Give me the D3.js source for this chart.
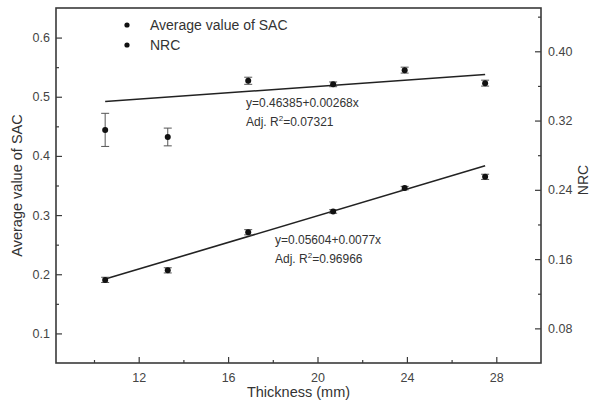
<!DOCTYPE html>
<html><head><meta charset="utf-8">
<script src="https://cdn.jsdelivr.net/npm/d3@7"></script>
<style>body{margin:0;background:#fff}svg{display:block;font-family:"Liberation Sans",Arial,sans-serif}</style>
</head><body><svg id="c" width="594" height="406"></svg>
<script>
const thickness = [10.5, 13.3, 16.9, 20.7, 23.9, 27.5];
const sac = [0.444, 0.432, 0.527, 0.521, 0.545, 0.523];
const sacErr = [0.028, 0.015, 0.006, 0.004, 0.005, 0.005];
const nrc = [0.136, 0.147, 0.191, 0.215, 0.242, 0.255];
const nrcErr = [0.003, 0.003, 0.003, 0.002, 0.002, 0.003];
const sacFit = [0.46385, 0.00268];
const nrcFit = [0.05604, 0.0077];
const xTicks = [12, 16, 20, 24, 28];
const xMinor = [10, 14, 18, 22, 26];
const yLTicks = [0.1, 0.2, 0.3, 0.4, 0.5, 0.6];
const yLMinor = [0.15, 0.25, 0.35, 0.45, 0.55];
const yRTicks = [0.08, 0.16, 0.24, 0.32, 0.40];
const yRMinor = [0.12, 0.20, 0.28, 0.36, 0.44];

const L = 56, R = 541, T = 8, B = 363;
const svg = d3.select("#c");
const x = d3.scaleLinear([8.3, 30], [L, R]);
const yL = d3.scaleLinear([0.05, 0.65], [B, T]);
const yR = d3.scaleLinear([0.04, 0.45], [B, T]);
const ink = "#333", lineC = "#3a3a3a";

function style(g){
  g.select(".domain").remove();
  g.selectAll("line").attr("stroke", lineC).attr("stroke-width", 1.2);
  g.selectAll("text").attr("fill", "#444").style("font-size", "12.5px").style("font-family", '"Liberation Sans",Arial,sans-serif');
}
// major/minor axes
svg.append("g").attr("transform", `translate(0,${B})`)
  .call(d3.axisBottom(x).tickValues(xTicks).tickSize(-6).tickPadding(10).tickFormat(d3.format("d"))).call(style);
svg.append("g").attr("transform", `translate(0,${B})`)
  .call(d3.axisBottom(x).tickValues(xMinor).tickSize(-3).tickFormat("")).call(style);
svg.append("g").attr("transform", `translate(${L},0)`)
  .call(d3.axisLeft(yL).tickValues(yLTicks).tickSize(-6).tickPadding(6).tickFormat(d3.format(".1f"))).call(style);
svg.append("g").attr("transform", `translate(${L},0)`)
  .call(d3.axisLeft(yL).tickValues(yLMinor).tickSize(-3).tickFormat("")).call(style);
svg.append("g").attr("transform", `translate(${R},0)`)
  .call(d3.axisRight(yR).tickValues(yRTicks).tickSize(-6).tickPadding(7).tickFormat(d3.format(".2f"))).call(style);
svg.append("g").attr("transform", `translate(${R},0)`)
  .call(d3.axisRight(yR).tickValues(yRMinor).tickSize(-3).tickFormat("")).call(style);

// frame
svg.append("rect").attr("x", L).attr("y", T).attr("width", R - L).attr("height", B - T)
  .attr("fill", "none").attr("stroke", lineC).attr("stroke-width", 1.6);

// fit lines
const xr = [d3.min(thickness), d3.max(thickness)];
const line = (ys) => d3.line().x(d => x(d)).y(d => ys(d));
svg.append("path").datum(xr).attr("fill", "none").attr("stroke", "#222").attr("stroke-width", 1.6)
  .attr("d", d3.line().x(d => x(d)).y(d => yL(sacFit[0] + sacFit[1] * d)));
svg.append("path").datum(xr).attr("fill", "none").attr("stroke", "#222").attr("stroke-width", 1.6)
  .attr("d", d3.line().x(d => x(d)).y(d => yR(nrcFit[0] + nrcFit[1] * d)));

// error bars + points
function series(vals, errs, ys){
  const g = svg.append("g");
  thickness.forEach((t, i) => {
    const cx = x(t), y1 = ys(vals[i] - errs[i]), y2 = ys(vals[i] + errs[i]);
    g.append("line").attr("x1", cx).attr("x2", cx).attr("y1", y1).attr("y2", y2).attr("stroke", "#555").attr("stroke-width", 1);
    [y1, y2].forEach(yy => g.append("line").attr("x1", cx - 4).attr("x2", cx + 4).attr("y1", yy).attr("y2", yy).attr("stroke", "#555").attr("stroke-width", 1));
    g.append("circle").attr("cx", cx).attr("cy", ys(vals[i])).attr("r", 3).attr("fill", "#111");
  });
}
series(sac, sacErr, yL);
series(nrc, nrcErr, yR);

// legend
const legend = ["Average value of SAC", "NRC"];
legend.forEach((t, i) => {
  svg.append("circle").attr("cx", 127).attr("cy", 25 + i * 20).attr("r", 2.6).attr("fill", "#111");
  svg.append("text").attr("x", 150).attr("y", 30 + i * 20).text(t).attr("fill", ink).style("font-size", "14px");
});

// annotations
function ann(xx, yy, eq, r2){
  const t1 = svg.append("text").attr("x", xx).attr("y", yy).attr("fill", ink).style("font-size", "12px").text(eq);
  const t2 = svg.append("text").attr("x", xx).attr("y", yy + 19).attr("fill", ink).style("font-size", "12px");
  t2.append("tspan").text("Adj. R");
  t2.append("tspan").attr("dy", -5).style("font-size", "8px").text("2");
  t2.append("tspan").attr("dy", 5).text("=" + r2);
}
ann(246, 107, "y=0.46385+0.00268x", "0.07321");
ann(275, 244, "y=0.05604+0.0077x", "0.96966");

// axis titles
svg.append("text").attr("x", (L + R) / 2).attr("y", 397).attr("text-anchor", "middle")
  .attr("fill", ink).style("font-size", "14.5px").text("Thickness (mm)");
svg.append("text").attr("transform", `translate(22,${(T + B) / 2}) rotate(-90)`).attr("text-anchor", "middle")
  .attr("fill", ink).style("font-size", "14.5px").text("Average value of SAC");
svg.append("text").attr("transform", `translate(588,180) rotate(-90)`).attr("text-anchor", "middle")
  .attr("fill", ink).style("font-size", "14px").text("NRC");
</script></body></html>
